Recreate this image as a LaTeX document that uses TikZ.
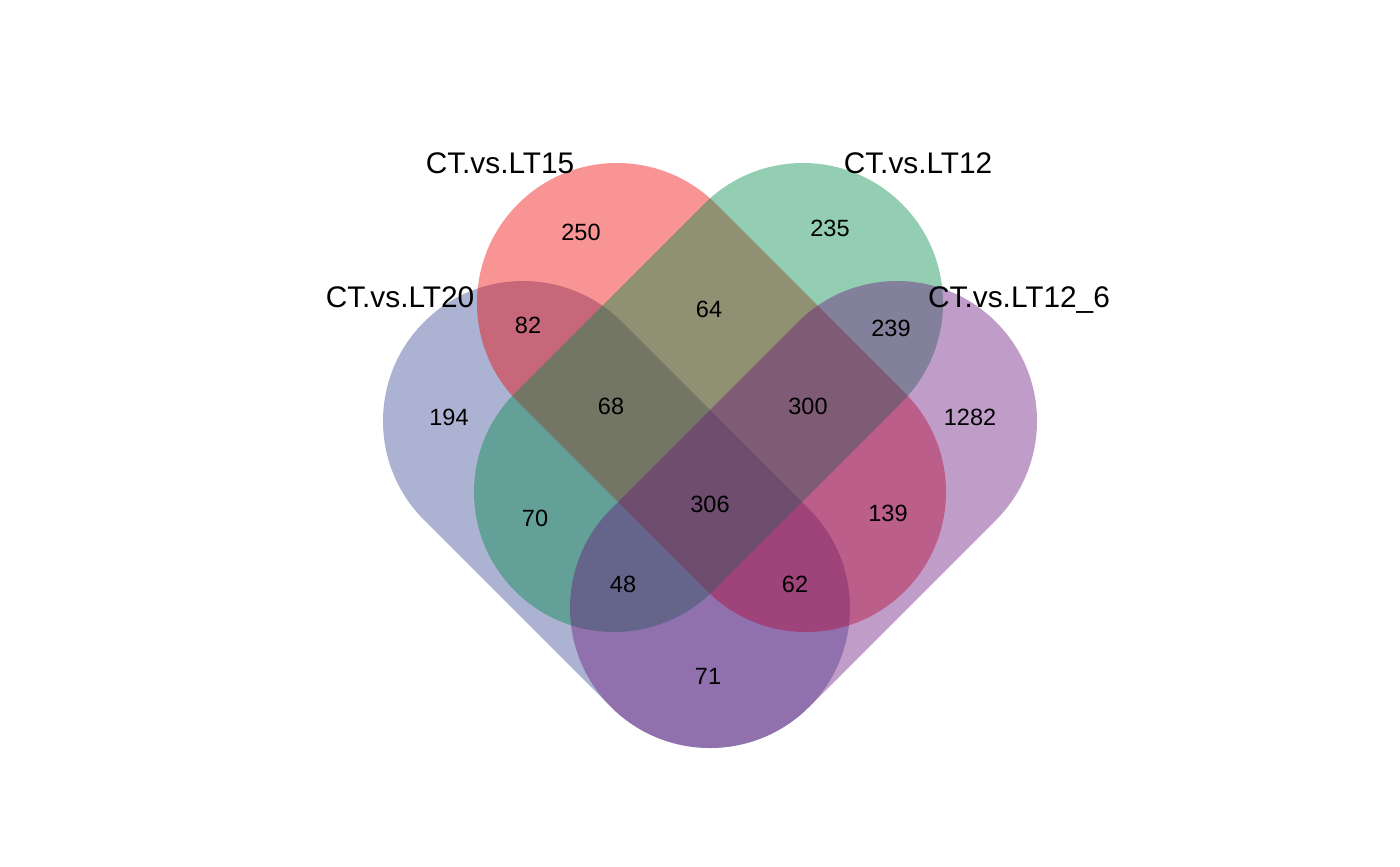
\documentclass[tikz,border=0pt]{standalone}
\usepackage{fontspec}
\setmainfont{Liberation Sans}
\definecolor{setBlue}{RGB}{57,71,148}
\definecolor{setRed}{RGB}{238,0,0}
\definecolor{setGreen}{RGB}{0,138,71}
\definecolor{setPurple}{RGB}{105,21,124}
\begin{document}
\begin{tikzpicture}[x=0.5pt,y=-0.5pt,
  setshape/.style={fill=#1, fill opacity=0.42, draw=none},
  num/.style={font=\fontsize{11.75}{14}\selectfont, anchor=base, inner sep=0pt},
  lab/.style={font=\fontsize{14.9}{18}\selectfont, anchor=base, inner sep=0pt}]
\useasboundingbox (0,0) rectangle (1400,866);
% CT.vs.LT20 (blue)
\path[setshape=setBlue] (523,421) ++(135:140) arc[start angle=135,end angle=315,radius=140]
  -- ++(187,187) arc[start angle=-45,end angle=135,radius=140] -- cycle;
% CT.vs.LT15 (red)
\path[setshape=setRed] (617,303) ++(135:140) arc[start angle=135,end angle=315,radius=140]
  -- ++(189,189) arc[start angle=-45,end angle=135,radius=140] -- cycle;
% CT.vs.LT12 (green)
\path[setshape=setGreen] (803,303) ++(225:140) arc[start angle=225,end angle=405,radius=140]
  -- ++(-189,189) arc[start angle=45,end angle=225,radius=140] -- cycle;
% CT.vs.LT12_6 (purple)
\path[setshape=setPurple] (897,421) ++(225:140) arc[start angle=225,end angle=405,radius=140]
  -- ++(-187,187) arc[start angle=45,end angle=225,radius=140] -- cycle;
% set labels
\node[lab] (lA) at (500,174) {CT.vs.LT15};
\node[lab] (lB) at (918,174) {CT.vs.LT12};
\node[lab] (lC) at (400,307) {CT.vs.LT20};
\node[lab] (lD) at (1019,307) {CT.vs.LT12\_6};
% counts
\node[num] (n250) at (581,240) {250};
\node[num] (n235) at (830,236) {235};
\node[num] (n82) at (528,333) {82};
\node[num] (n64) at (709,317) {64};
\node[num] (n239) at (891,336) {239};
\node[num] (n194) at (449,425) {194};
\node[num] (n68) at (611,414) {68};
\node[num] (n300) at (808,414) {300};
\node[num] (n1282) at (970,425) {1282};
\node[num] (n70) at (535,526) {70};
\node[num] (n306) at (710,512) {306};
\node[num] (n139) at (888,521) {139};
\node[num] (n48) at (623,592) {48};
\node[num] (n62) at (795,592) {62};
\node[num] (n71) at (708,684) {71};
\end{tikzpicture}
\end{document}
